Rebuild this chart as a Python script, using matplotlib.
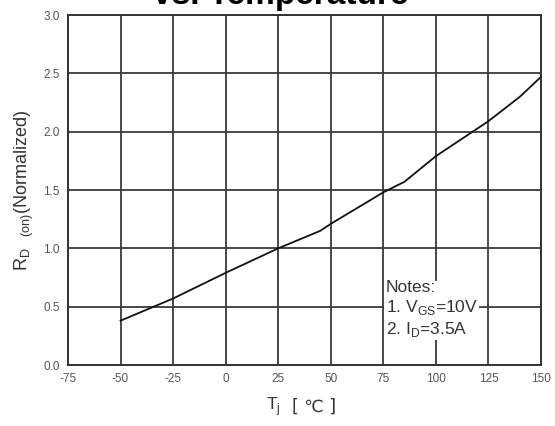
import numpy as np
import matplotlib
matplotlib.use('Agg')
import matplotlib.pyplot as plt

plt.rcParams['font.family'] = ['Liberation Sans', 'DejaVu Sans']
plt.rcParams['mathtext.fontset'] = 'custom'
plt.rcParams['mathtext.rm'] = 'Liberation Sans'

# 归一化导通电阻随结温变化
temp_c = [-50, -25, 0, 25, 45, 50, 75, 85, 100, 125, 140, 150]
rds_norm = [0.38, 0.57, 0.79, 1.00, 1.15, 1.21, 1.48, 1.57, 1.79, 2.09, 2.30, 2.47]

x_ticks = [-75, -50, -25, 0, 25, 50, 75, 100, 125, 150]
y_ticks = [0.0, 0.5, 1.0, 1.5, 2.0, 2.5, 3.0]

fig = plt.figure(figsize=(5.55, 4.26), dpi=100)
ax = fig.add_axes([68 / 555, 1 - 365 / 426, 473 / 555, 350 / 426])

ax.plot(temp_c, rds_norm, color='#111111', lw=1.3, zorder=3)

ax.set_xlim(-75, 150)
ax.set_ylim(0, 3)
ax.set_xticks(x_ticks)
ax.set_yticks(y_ticks)
ax.set_xticklabels([str(t) for t in x_ticks])
ax.set_yticklabels(['%.1f' % v for v in y_ticks])
ax.tick_params(length=0, labelsize=8.5, colors='#555555', pad=6)
ax.grid(True, color='#3a3a3a', lw=1.3)
for s in ax.spines.values():
    s.set_color('#333333')
    s.set_linewidth(1.4)

ax.set_ylabel(r'R$_{\mathrm{D}\ \ \ \mathrm{(on)}}$(Normalized)', fontsize=13,
              color='#333333', labelpad=5)

# 横轴标题：T_j 与单位分开写，℃ 用 DejaVu Sans 显示
fig.text(281 / 555, 1 - 407 / 426, 'T$_{\\mathrm{j}}$', ha='right', va='center',
         fontsize=12.5, color='#333333')
fig.text(292 / 555, 1 - 407 / 426, '[ ℃ ]', ha='left', va='center',
         fontsize=12.5, color='#333333', family=['DejaVu Sans'])

# 测试条件说明
ax.text(0.672, 0.243, 'Notes:\n1. V$_{\\mathrm{GS}}$=10V\n2. I$_{\\mathrm{D}}$=3.5A',
        transform=ax.transAxes, fontsize=12.5, color='#333333', va='top', ha='left',
        linespacing=1.2, zorder=4,
        bbox=dict(facecolor='white', edgecolor='none', pad=1.0))

fig.text(281 / 555, 1 - 4 / 426, 'vs. Temperature', ha='center', va='baseline',
         fontsize=24, fontweight='bold', color='black')

fig.savefig('out.png', dpi=100)
